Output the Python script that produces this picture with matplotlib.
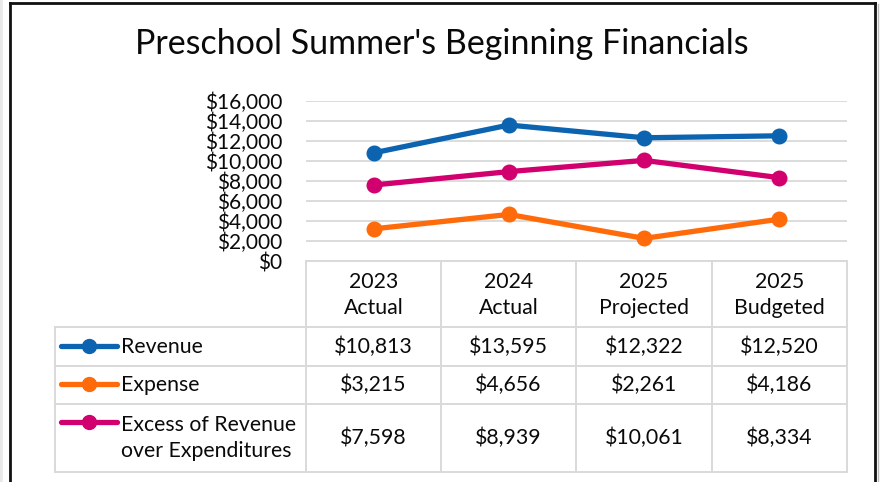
import matplotlib
matplotlib.use("Agg")
import matplotlib.pyplot as plt
from matplotlib.lines import Line2D
from matplotlib.ticker import FuncFormatter

# ---- data ----
categories = ["2023\nActual", "2024\nActual", "2025\nProjected", "2025\nBudgeted"]
series_names = ["Revenue", "Expense", "Excess of Revenue\nover Expenditures"]
revenue = [10813, 13595, 12322, 12520]
expense = [3215, 4656, 2261, 4186]
excess = [7598, 8939, 10061, 8334]
y_ticks = [0, 2000, 4000, 6000, 8000, 10000, 12000, 14000, 16000]
title = "Preschool Summer's Beginning Financials"

series_values = [revenue, expense, excess]
colors = ["#0C63B0", "#FF6A0A", "#D2006E"]

plt.rcParams['font.family'] = ['Lato', 'DejaVu Sans']

W, H = 882, 482
fig = plt.figure(figsize=(W / 100, H / 100), dpi=100)

def fx(x):
    return x / W

def fy(y):
    return 1 - y / H

# overlay axes in pixel coordinates (y down)
ov = fig.add_axes([0, 0, 1, 1], zorder=0)
ov.set_xlim(0, W)
ov.set_ylim(H, 0)
ov.axis('off')

# chart axes
x_left, x_right = 306, 847
y_top, y_bot = 101, 261
ax = fig.add_axes([fx(x_left), fy(y_bot), (x_right - x_left) / W, (y_bot - y_top) / H], zorder=2)
ax.patch.set_alpha(0)
ax.set_xlim(-0.5, len(categories) - 0.5)
ax.set_ylim(0, 16000)
ax.set_yticks(y_ticks)
ax.yaxis.set_major_formatter(FuncFormatter(lambda v, p: "${:,.0f}".format(v)))
ax.tick_params(axis='y', length=0, pad=17, labelsize=15, labelcolor='#0A0A0A')
ax.set_xticks([])
for s in ax.spines.values():
    s.set_visible(False)
ax.grid(axis='y', color='#D9D9D9', linewidth=1.3)
ax.set_axisbelow(True)

xs = list(range(len(categories)))
for vals, c in zip(series_values, colors):
    ax.plot(xs, vals, color=c, linewidth=3.8, marker='o', markersize=10.5,
            solid_capstyle='round', zorder=3)

# title
ov.text(442, 54, title, ha='center', va='baseline', fontsize=24.5, color='#0A0A0A')

# table
gcol = '#D9D9D9'
lw = 1.4
col_edges = [306, 441, 576, 712, 847]
row_edges = [261, 327, 366, 404, 472]
leg_left = 55
for x in col_edges:
    ov.plot([x, x], [row_edges[0], row_edges[-1]], color=gcol, lw=lw, solid_capstyle='butt')
ov.plot([leg_left, leg_left], [row_edges[1], row_edges[-1]], color=gcol, lw=lw)
ov.plot([col_edges[0], col_edges[-1]], [row_edges[0], row_edges[0]], color=gcol, lw=lw)
for y in row_edges[1:]:
    ov.plot([leg_left, col_edges[-1]], [y, y], color=gcol, lw=lw)

fs = 15.3
tc = '#0A0A0A'
for i, cat in enumerate(categories):
    cx = (col_edges[i] + col_edges[i + 1]) / 2
    ov.text(cx, 295, cat, ha='center', va='center', fontsize=fs, linespacing=1.38, color=tc)

row_centers = [347, 385, 438]
legend_y = [346, 384, 422]
for r, (name, vals, c) in enumerate(zip(series_names, series_values, colors)):
    for i, v in enumerate(vals):
        cx = (col_edges[i] + col_edges[i + 1]) / 2
        ov.text(cx, row_centers[r], "${:,.0f}".format(v), ha='center', va='center',
                fontsize=fs, color=tc)
    ly = legend_y[r]
    ov.add_line(Line2D([61, 117], [ly, ly], color=c, lw=3.8, solid_capstyle='round'))
    ov.add_line(Line2D([89], [ly], color=c, marker='o', markersize=10, lw=0))
    ov.text(121, row_centers[r], name, ha='left', va='center', fontsize=fs,
            linespacing=1.38, color=tc)

# outer border
ov.add_line(Line2D([0, 0], [0, H], color='#E8E8E8', lw=4))
ov.add_line(Line2D([10, 10], [3, H], color='#111111', lw=2))
ov.add_line(Line2D([10, 875], [3, 3], color='#111111', lw=2))
ov.add_line(Line2D([875, 875], [3, H], color='#111111', lw=2))
ov.add_line(Line2D([877.5, 877.5], [4, H], color='#BBBBBB', lw=1))

fig.savefig("out.png", dpi=100)
